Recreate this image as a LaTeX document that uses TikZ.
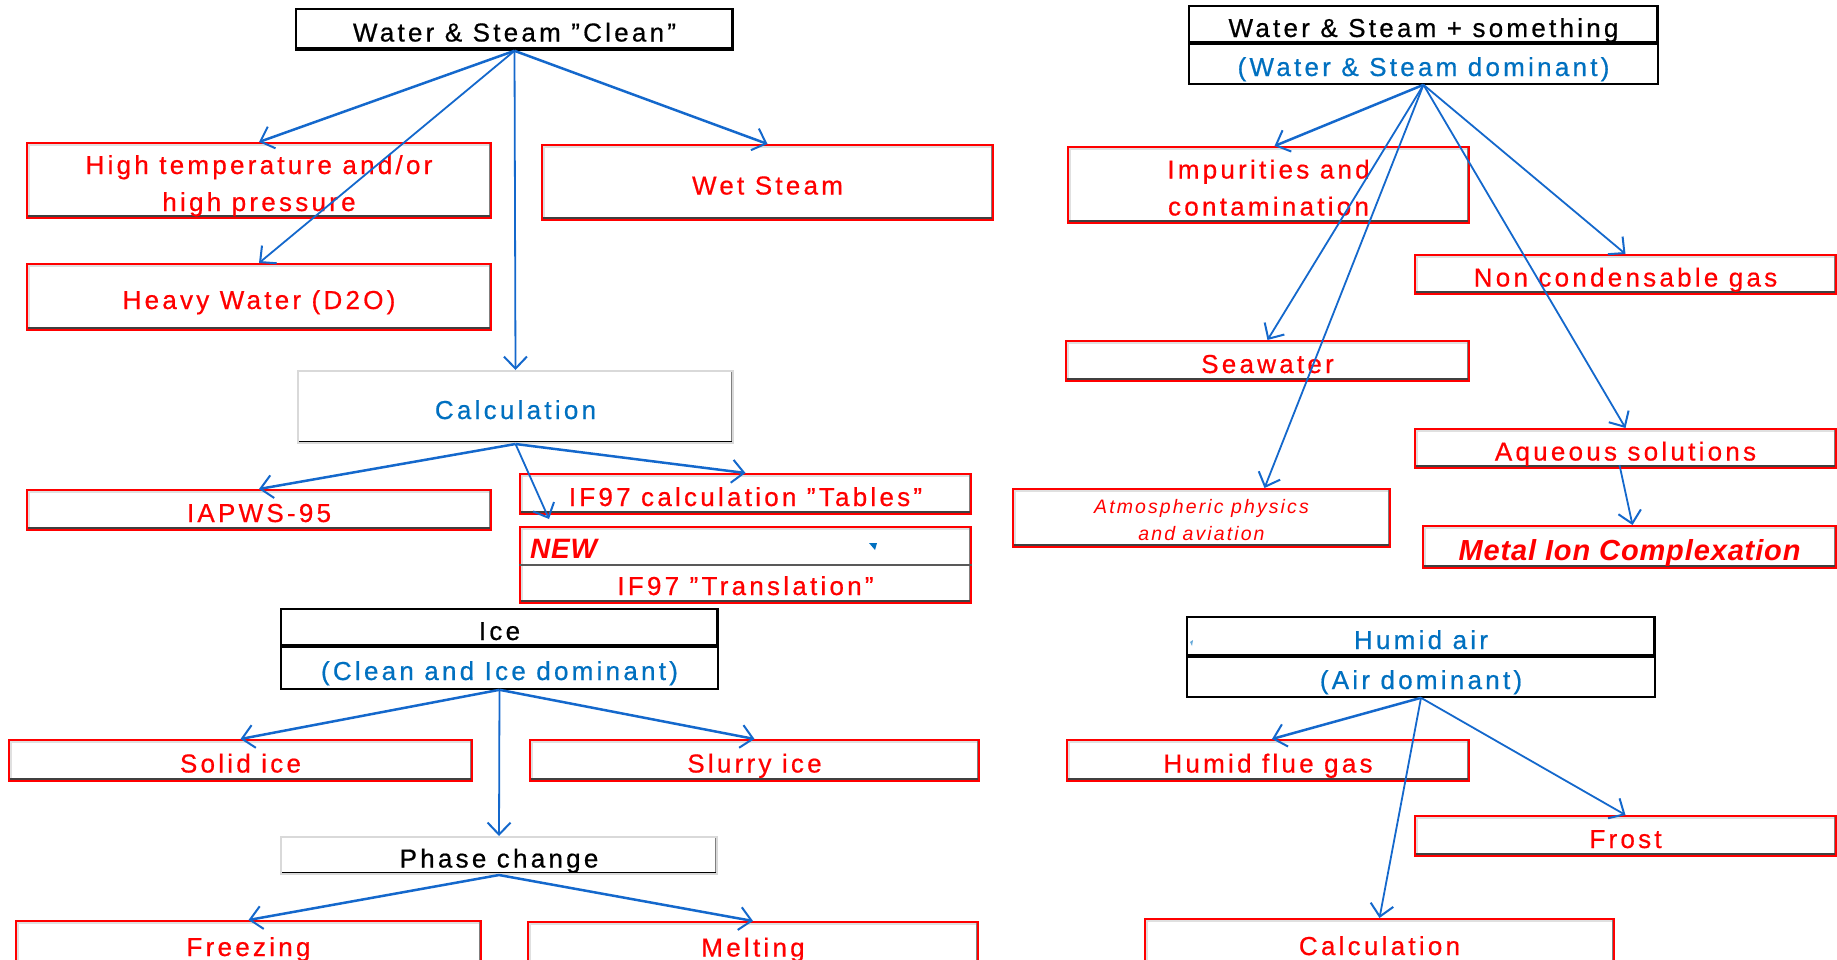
\documentclass[tikz,border=0pt]{standalone}
\usepackage{fontspec}
\setmainfont{Liberation Sans}
\newfontfamily\labfont{Liberation Sans}[LetterSpace=12.5,FakeBold=0.6]
\newfontfamily\tightfont{Liberation Sans}[LetterSpace=3]
\newfontfamily\atmfont{Liberation Sans}[LetterSpace=10.8]
\usetikzlibrary{arrows.meta,calc}

\definecolor{arrowblue}{RGB}{20,104,204}
\definecolor{textblue}{RGB}{0,112,192}
\definecolor{boxred}{RGB}{255,0,0}

% struts that fix the height of the first line and the depth of the last one
\newcommand\topstrut{\rule{0pt}{30pt}}
\newcommand\botstrut{\rule[-6pt]{0pt}{0pt}}

\tikzset{
  lab/.style={font=\labfont\fontsize{26}{37}\selectfont, align=center, inner sep=0pt,
    execute at begin node={\topstrut},
    execute at end node={\botstrut}},
  redcell/.style={lab, draw=boxred, line width=2pt, fill=white, text=boxred,
    path picture={
      \draw[black!12, line width=5pt] (path picture bounding box.south west)
        -- (path picture bounding box.north west) -- (path picture bounding box.north east);
      \draw[black!50, line width=5pt] (path picture bounding box.north east)
        -- (path picture bounding box.south east);
      \draw[black!75, line width=6pt] (path picture bounding box.south west)
        -- (path picture bounding box.south east);
    }},
  hdcell/.style={lab, draw=black, line width=1.6pt, fill=white},
  hdshadow/.style={
    path picture={
      \draw[black, line width=7pt] (path picture bounding box.south west)
        -- (path picture bounding box.south east);
      \draw[black, line width=5pt] (path picture bounding box.north east)
        -- (path picture bounding box.south east);
    }},
  plaincell/.style={lab, draw=black!15, line width=2pt, fill=white,
    path picture={
      \draw[black!50, line width=4pt] (path picture bounding box.north east)
        -- (path picture bounding box.south east);
      \draw[black, line width=5pt] (path picture bounding box.south west)
        -- (path picture bounding box.south east);
    }},
  arr/.style={draw=arrowblue, line width=2.5pt,
    -{Straight Barb[length=12pt,width=23pt,line width=2pt]}},
  arrthin/.style={arr, line width=1.8pt},
}

\begin{document}
\begin{tikzpicture}[x=1pt,y=-1pt]
\useasboundingbox (0,0) rectangle (1837,959);
\clip (0,0) rectangle (1837,959);
\fill[white] (0,0) rectangle (1837,959);

% ---------- Water & Steam "Clean" ----------
\node[hdcell, hdshadow, minimum width=437, minimum height=41] (ws) at (514.5,29.5)
  {Water \& Steam ”Clean”};
\node[redcell, minimum width=464, minimum height=75] (ht) at (259,180.5)
  {\topstrut High temperature and/or\\high pressure\botstrut};
\node[redcell, minimum width=464, minimum height=66] (hw) at (259,297)
  {Heavy Water (D2O)};
\node[redcell, minimum width=451, minimum height=75] (wet) at (767.5,182.5)
  {Wet Steam};
\node[plaincell, text=textblue, minimum width=435, minimum height=72] (calc) at (515.5,407)
  {Calculation};
\node[redcell, minimum width=464, minimum height=40] (iapws) at (259,510)
  {IAPWS-95};
\node[redcell, minimum width=451, minimum height=40] (tables) at (745.5,494)
  {IF97 calculation ”Tables”};
\node[redcell, minimum width=451, minimum height=76] (newbox) at (745.5,565) {};
\draw[black!65, line width=2pt] (newbox.west) -- (newbox.east);
\node[anchor=west, text=boxred, font=\tightfont\bfseries\itshape\fontsize{28}{30}\selectfont, inner sep=0pt]
  (newlabel) at ($(newbox.west)+(11,-16)$) {NEW};
\node[lab, text=boxred] (translabel) at ($(newbox.center)+(0,18)$) {IF97 ”Translation”};
\fill[textblue] (869,543) -- (877,543) -- (875,550) -- cycle;

% ---------- Ice ----------
\node[hdcell, hdshadow, minimum width=437, minimum height=38] (iceh) at (499.5,628) {Ice};
\node[hdcell, text=textblue, minimum width=437, minimum height=42] (ices) at (499.5,668)
  {(Clean and Ice dominant)};
\node[redcell, minimum width=463, minimum height=41] (solid) at (240.5,760.5) {Solid ice};
\node[redcell, minimum width=449, minimum height=41] (slurry) at (754.5,760.5) {Slurry ice};
\node[plaincell, minimum width=436, minimum height=37] (phase) at (499,855.5) {Phase change};
\node[redcell, minimum width=465, minimum height=46] (freeze) at (248.5,944) {Freezing};
\node[redcell, minimum width=450, minimum height=45] (melt) at (753,944.5) {Melting};

% ---------- Water & Steam + something ----------
\node[hdcell, hdshadow, minimum width=469, minimum height=38] (wsh) at (1423.5,25)
  {Water \& Steam + something};
\node[hdcell, text=textblue, minimum width=469, minimum height=40] (wss) at (1423.5,64)
  {(Water \& Steam dominant)};
\node[redcell, minimum width=401, minimum height=76] (imp) at (1268.5,185)
  {\topstrut Impurities and\\contamination\botstrut};
\node[redcell, minimum width=421, minimum height=39] (noncond) at (1625.5,274.5)
  {Non condensable gas};
\node[redcell, minimum width=403, minimum height=40] (sea) at (1267.5,361) {Seawater};
\node[redcell, minimum width=421, minimum height=39] (aq) at (1625.5,448.5)
  {Aqueous solutions};
\node[redcell, font=\atmfont\itshape\fontsize{19.5}{27}\selectfont,
  execute at begin node={}, execute at end node={},
  minimum width=377, minimum height=58] (atm) at (1201.5,518)
  {\rule{0pt}{24pt}Atmospheric physics\\and aviation\rule[-4pt]{0pt}{0pt}};
\node[redcell, font=\tightfont\bfseries\itshape\fontsize{29}{32}\selectfont,
  execute at begin node={\rule{0pt}{33pt}},
  minimum width=413, minimum height=42] (metal) at (1629.5,547)
  {Metal Ion Complexation};

% ---------- Humid air ----------
\node[hdcell, hdshadow, text=textblue, minimum width=468, minimum height=40] (hah) at (1421,637)
  {Humid air};
\node[hdcell, text=textblue, minimum width=468, minimum height=40] (has) at (1421,677)
  {(Air dominant)};
\fill[textblue!60] (1190,642) -- (1193,640) -- (1192,646) -- cycle;
\node[redcell, minimum width=402, minimum height=41] (flue) at (1268,760.5) {Humid flue gas};
\node[redcell, minimum width=421, minimum height=40] (frost) at (1625.5,836) {Frost};
\node[redcell, minimum width=469, minimum height=48] (calctwo) at (1379.5,943) {Calculation};

% ---------- connectors ----------
\draw[arr]     (ws.south) -- (ht.north);
\draw[arrthin] (ws.south) -- (hw.north);
\draw[arrthin] (ws.south) -- (calc.north);
\draw[arr]     (ws.south) -- (wet.north);
\draw[arr]     (calc.south) -- (iapws.north);
\draw[arr]     (calc.south) -- (tables.north);
\draw[arrthin] (calc.south) -- ($(newbox.north west)+(30,-7)$);

\draw[arr]     (ices.south) -- (solid.north);
\draw[arr]     (ices.south) -- (slurry.north);
\draw[arrthin] (ices.south) -- (phase.north);
\draw[arr]     (phase.south) -- (freeze.north);
\draw[arr]     (phase.south) -- (melt.north);

\draw[arr]     (wss.south) -- ($(imp.north)+(6,0)$);
\draw[arrthin] (wss.south) -- (sea.north);
\draw[arrthin] (wss.south) -- ($(atm.north)+(63,0)$);
\draw[arrthin] (wss.south) -- (noncond.north);
\draw[arrthin] (wss.south) -- (aq.north);
\draw[arrthin] ($(aq.south)+(-6,-4)$) -- ($(metal.north)+(3,0)$);

\draw[arr]     (has.south) -- ($(flue.north)+(4,0)$);
\draw[arrthin] (has.south) -- (frost.north);
\draw[arrthin] (has.south) -- (calctwo.north);
\end{tikzpicture}
\end{document}
